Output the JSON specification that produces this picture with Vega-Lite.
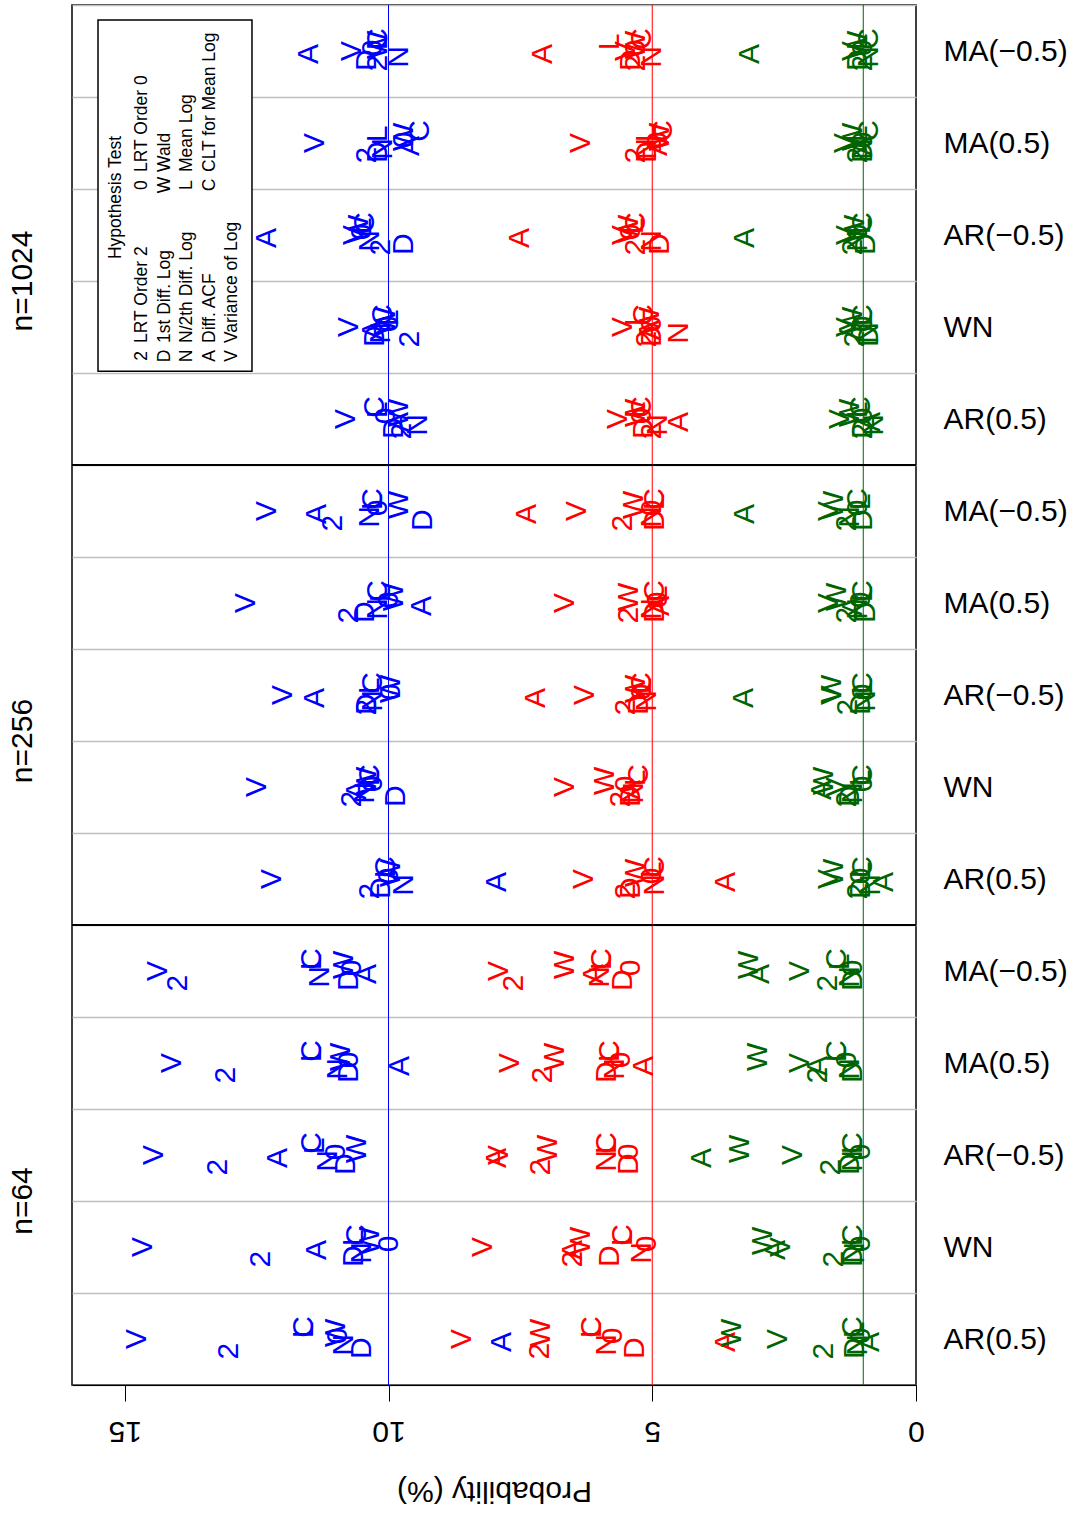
{
  "$schema": "https://vega.github.io/schema/vega-lite/v6.json",
  "width": 844,
  "height": 1380,
  "autosize": {"type": "none"},
  "padding": {"left": 72, "top": 5, "right": 157, "bottom": 128},
  "background": "white",
  "config": {
    "font": "Liberation Sans",
    "view": {"stroke": "black", "strokeWidth": 1.5},
    "text": {"font": "Liberation Sans"}
  },
  "layer": [
    {
      "layer": [
        {
          "data": {"values": [{"level": 10}, {"level": 5}, {"level": 1}]},
          "mark": {"type": "rule", "strokeWidth": 1},
          "encoding": {
            "x": {"field": "level", "type": "quantitative", "title": "Probability (%)"},
            "color": {"field": "level", "type": "nominal", "scale": {"domain": [10, 5, 1], "range": ["#0000FF", "#FF0000", "#006400"]}, "legend": null}
          }
        },
        {
          "data": {"values": [{"case": "n=256|MA(−0.5)"}, {"case": "n=64|MA(−0.5)"}]},
          "mark": {"type": "rule", "color": "black", "strokeWidth": 2},
          "encoding": {
            "y": {
              "field": "case", "type": "nominal", "bandPosition": 0,
              "scale": {"domain": ["n=1024|MA(−0.5)", "n=1024|MA(0.5)", "n=1024|AR(−0.5)", "n=1024|WN", "n=1024|AR(0.5)", "n=256|MA(−0.5)", "n=256|MA(0.5)", "n=256|AR(−0.5)", "n=256|WN", "n=256|AR(0.5)", "n=64|MA(−0.5)", "n=64|MA(0.5)", "n=64|AR(−0.5)", "n=64|WN", "n=64|AR(0.5)"], "paddingInner": 0, "paddingOuter": 0},
              "axis": {"orient": "left", "title": null, "labelOffset": -46, "labelExpr": "indexof(datum.label, '|WN') >= 0 ? split(datum.label, '|')[0] : ''", "ticks": false, "tickSize": 0, "domain": false, "grid": false, "labelAngle": 270, "labelAlign": "center", "labelBaseline": "alphabetic", "labelPadding": 41, "labelFontSize": 30, "labelColor": "black", "labelOverlap": false, "labelFont": "Liberation Sans"}
            }
          }
        },
        {
          "data": {"values": [
            {"case": "n=1024|MA(−0.5)", "level": 10, "2": 10.2, "D": 10.4, "N": 9.8, "A": 11.5, "V": 10.7, "0": 10.3, "W": 10.2, "L": 10.2, "C": 10.2},
            {"case": "n=1024|MA(−0.5)", "level": 5, "2": 5.3, "D": 5.4, "N": 5.0, "A": 7.07, "V": 5.5, "0": 5.3, "W": 5.3, "L": 5.8, "C": 5.2},
            {"case": "n=1024|MA(−0.5)", "level": 1, "2": 1.0, "D": 1.1, "N": 0.9, "A": 3.14, "V": 1.2, "0": 1.0, "W": 1.1, "L": 1.1, "C": 0.9},
            {"case": "n=1024|MA(0.5)", "level": 10, "2": 10.4, "D": 10.2, "N": 10.1, "A": 9.6, "V": 11.4, "0": 9.7, "W": 9.7, "L": 10.2, "C": 9.4},
            {"case": "n=1024|MA(0.5)", "level": 5, "2": 5.3, "D": 5.1, "N": 5.1, "A": 4.9, "V": 6.35, "0": 4.9, "W": 4.85, "L": 5.1, "C": 4.8},
            {"case": "n=1024|MA(0.5)", "level": 1, "2": 1.1, "D": 1.0, "N": 1.0, "A": 1.0, "V": 1.35, "0": 1.0, "W": 1.2, "L": 1.1, "C": 0.9},
            {"case": "n=1024|AR(−0.5)", "level": 10, "2": 10.15, "D": 9.7, "N": 10.35, "A": 12.3, "V": 10.65, "0": 10.5, "W": 10.55, "L": 10.5, "C": 10.45},
            {"case": "n=1024|AR(−0.5)", "level": 5, "2": 5.3, "D": 4.85, "N": 5.0, "A": 7.5, "V": 5.55, "0": 5.4, "W": 5.45, "L": 5.35, "C": 5.3},
            {"case": "n=1024|AR(−0.5)", "level": 1, "2": 1.2, "D": 0.95, "N": 1.1, "A": 3.24, "V": 1.3, "0": 1.1, "W": 1.15, "L": 1.05, "C": 1.0},
            {"case": "n=1024|WN", "level": 10, "2": 9.6, "D": 10.25, "N": 10.15, "A": 10.3, "V": 10.75, "0": 10.0, "W": 10.05, "L": 10.0, "C": 10.1},
            {"case": "n=1024|WN", "level": 5, "2": 5.1, "D": 5.0, "N": 4.5, "A": 5.05, "V": 5.55, "0": 5.0, "W": 5.05, "L": 5.3, "C": 5.15},
            {"case": "n=1024|WN", "level": 1, "2": 1.15, "D": 0.9, "N": 0.9, "A": 1.25, "V": 1.3, "0": 1.0, "W": 1.2, "L": 1.0, "C": 1.0},
            {"case": "n=1024|AR(0.5)", "level": 10, "2": 9.75, "D": 9.9, "N": 9.45, "A": 9.8, "V": 10.8, "0": 10.05, "W": 9.8, "L": 10.2, "C": 10.25},
            {"case": "n=1024|AR(0.5)", "level": 5, "2": 5.0, "D": 5.15, "N": 4.9, "A": 4.5, "V": 5.65, "0": 5.2, "W": 5.3, "L": 5.3, "C": 5.2},
            {"case": "n=1024|AR(0.5)", "level": 1, "2": 1.0, "D": 1.0, "N": 0.8, "A": 0.85, "V": 1.45, "0": 1.0, "W": 1.25, "L": 1.1, "C": 1.05},
            {"case": "n=256|MA(−0.5)", "level": 10, "2": 11.05, "D": 9.35, "N": 10.35, "A": 11.35, "V": 12.3, "0": 10.2, "W": 9.8, "L": 10.3, "C": 10.3},
            {"case": "n=256|MA(−0.5)", "level": 5, "2": 5.55, "D": 4.95, "N": 5.0, "A": 7.37, "V": 6.43, "0": 5.0, "W": 5.35, "L": 4.95, "C": 4.95},
            {"case": "n=256|MA(−0.5)", "level": 1, "2": 1.3, "D": 1.0, "N": 1.25, "A": 3.24, "V": 1.65, "0": 1.1, "W": 1.55, "L": 1.05, "C": 1.1},
            {"case": "n=256|MA(0.5)", "level": 10, "2": 10.75, "D": 10.45, "N": 10.2, "A": 9.37, "V": 12.7, "0": 10.0, "W": 9.9, "L": 10.15, "C": 10.2},
            {"case": "n=256|MA(0.5)", "level": 5, "2": 5.45, "D": 4.95, "N": 5.0, "A": 4.85, "V": 6.65, "0": 4.9, "W": 5.45, "L": 4.9, "C": 4.95},
            {"case": "n=256|MA(0.5)", "level": 1, "2": 1.3, "D": 0.95, "N": 1.1, "A": 1.2, "V": 1.65, "0": 1.05, "W": 1.5, "L": 1.0, "C": 1.0},
            {"case": "n=256|AR(−0.5)", "level": 10, "2": 10.4, "D": 10.4, "N": 10.3, "A": 11.4, "V": 12.0, "0": 9.95, "W": 9.95, "L": 10.35, "C": 10.3},
            {"case": "n=256|AR(−0.5)", "level": 5, "2": 5.5, "D": 5.25, "N": 5.1, "A": 7.2, "V": 6.27, "0": 5.2, "W": 5.3, "L": 5.2, "C": 5.2},
            {"case": "n=256|AR(−0.5)", "level": 1, "2": 1.28, "D": 1.05, "N": 0.95, "A": 3.26, "V": 1.6, "0": 1.0, "W": 1.6, "L": 1.0, "C": 1.0},
            {"case": "n=256|WN", "level": 10, "2": 10.7, "D": 9.85, "N": 10.45, "A": 10.6, "V": 12.5, "0": 10.3, "W": 10.4, "L": 10.35, "C": 10.35},
            {"case": "n=256|WN", "level": 5, "2": 5.6, "D": 5.4, "N": 5.35, "A": 5.4, "V": 6.66, "0": 5.5, "W": 5.9, "L": 5.3, "C": 5.25},
            {"case": "n=256|WN", "level": 1, "2": 1.3, "D": 1.25, "N": 1.2, "A": 1.78, "V": 1.5, "0": 1.0, "W": 1.75, "L": 1.05, "C": 1.0},
            {"case": "n=256|AR(0.5)", "level": 10, "2": 10.35, "D": 10.15, "N": 9.7, "A": 7.94, "V": 12.2, "0": 10.0, "W": 9.95, "L": 10.05, "C": 10.05},
            {"case": "n=256|AR(0.5)", "level": 5, "2": 5.5, "D": 5.4, "N": 4.95, "A": 3.6, "V": 6.3, "0": 5.0, "W": 5.3, "L": 5.0, "C": 4.95},
            {"case": "n=256|AR(0.5)", "level": 1, "2": 1.1, "D": 1.05, "N": 0.85, "A": 0.6, "V": 1.65, "0": 1.05, "W": 1.55, "L": 1.05, "C": 1.0},
            {"case": "n=64|MA(−0.5)", "level": 10, "2": 14.0, "D": 10.75, "N": 11.3, "A": 10.4, "V": 14.37, "0": 10.7, "W": 10.85, "L": 11.45, "C": 11.45},
            {"case": "n=64|MA(−0.5)", "level": 5, "2": 7.63, "D": 5.55, "N": 6.0, "A": 6.1, "V": 7.9, "0": 5.4, "W": 6.66, "L": 5.95, "C": 5.95},
            {"case": "n=64|MA(−0.5)", "level": 1, "2": 1.67, "D": 1.2, "N": 1.25, "A": 2.95, "V": 2.2, "0": 1.2, "W": 3.17, "L": 1.45, "C": 1.5},
            {"case": "n=64|MA(0.5)", "level": 10, "2": 13.08, "D": 10.75, "N": 10.95, "A": 9.78, "V": 14.1, "0": 10.75, "W": 10.9, "L": 11.45, "C": 11.45},
            {"case": "n=64|MA(0.5)", "level": 5, "2": 7.07, "D": 5.85, "N": 5.7, "A": 5.15, "V": 7.7, "0": 5.6, "W": 6.85, "L": 5.8, "C": 5.8},
            {"case": "n=64|MA(0.5)", "level": 1, "2": 1.85, "D": 1.2, "N": 1.25, "A": 1.85, "V": 2.2, "0": 1.3, "W": 3.0, "L": 1.5, "C": 1.5},
            {"case": "n=64|AR(−0.5)", "level": 10, "2": 13.24, "D": 10.8, "N": 11.15, "A": 12.1, "V": 14.45, "0": 11.0, "W": 10.6, "L": 11.4, "C": 11.45},
            {"case": "n=64|AR(−0.5)", "level": 5, "2": 7.1, "D": 5.45, "N": 5.85, "A": 7.95, "V": 7.9, "0": 5.45, "W": 6.97, "L": 5.85, "C": 5.85},
            {"case": "n=64|AR(−0.5)", "level": 1, "2": 1.62, "D": 1.25, "N": 1.2, "A": 4.06, "V": 2.33, "0": 1.05, "W": 3.34, "L": 1.2, "C": 1.2},
            {"case": "n=64|WN", "level": 10, "2": 12.42, "D": 10.65, "N": 10.5, "A": 11.35, "V": 14.65, "0": 10.0, "W": 10.35, "L": 10.65, "C": 10.6},
            {"case": "n=64|WN", "level": 5, "2": 6.5, "D": 5.8, "N": 5.2, "A": 6.5, "V": 8.2, "0": 5.1, "W": 6.35, "L": 5.55, "C": 5.55},
            {"case": "n=64|WN", "level": 1, "2": 1.55, "D": 1.2, "N": 1.15, "A": 2.65, "V": 2.55, "0": 1.05, "W": 2.9, "L": 1.2, "C": 1.2},
            {"case": "n=64|AR(0.5)", "level": 10, "2": 13.02, "D": 10.5, "N": 10.85, "A": 7.84, "V": 14.77, "0": 10.95, "W": 11.0, "L": 11.6, "C": 11.6},
            {"case": "n=64|AR(0.5)", "level": 5, "2": 7.12, "D": 5.33, "N": 5.85, "A": 3.6, "V": 8.6, "0": 5.75, "W": 7.1, "L": 6.15, "C": 6.15},
            {"case": "n=64|AR(0.5)", "level": 1, "2": 1.75, "D": 1.15, "N": 1.1, "A": 0.87, "V": 2.62, "0": 1.05, "W": 3.49, "L": 1.15, "C": 1.2}
          ]},
          "transform": [{"fold": ["2", "D", "N", "A", "V", "0", "W", "L", "C"], "as": ["key", "prob"]}],
          "mark": {"type": "text", "angle": 270, "fontSize": 30, "align": "center", "baseline": "middle", "font": "Liberation Sans"},
          "encoding": {
            "x": {
              "field": "prob", "type": "quantitative",
              "scale": {"domain": [0, 16], "reverse": true, "nice": false, "zero": false},
              "axis": {"values": [0, 5, 10, 15], "title": "Probability (%)", "grid": false, "labelAngle": 180, "labelAlign": "center", "labelBaseline": "alphabetic", "labelFlush": false, "labelOverlap": false, "labelFontSize": 30, "labelPadding": 20, "labelColor": "black", "labelFont": "Liberation Sans", "tickSize": 16, "tickColor": "black", "tickWidth": 1, "domainColor": "black", "domainWidth": 1, "titleAngle": 180, "titleFontSize": 30, "titleFontWeight": "normal", "titleBaseline": "bottom", "titlePadding": 30, "titleColor": "black", "titleFont": "Liberation Sans"}
            },
            "y": {
              "field": "case", "type": "nominal",
              "scale": {"domain": ["n=1024|MA(−0.5)", "n=1024|MA(0.5)", "n=1024|AR(−0.5)", "n=1024|WN", "n=1024|AR(0.5)", "n=256|MA(−0.5)", "n=256|MA(0.5)", "n=256|AR(−0.5)", "n=256|WN", "n=256|AR(0.5)", "n=64|MA(−0.5)", "n=64|MA(0.5)", "n=64|AR(−0.5)", "n=64|WN", "n=64|AR(0.5)"], "paddingInner": 0, "paddingOuter": 0},
              "axis": {"orient": "right", "title": null, "labelExpr": "split(datum.label, '|')[1]", "ticks": false, "domain": false, "grid": true, "gridColor": "#BEBEBE", "gridWidth": 1.5, "tickBand": "extent", "labelFontSize": 30, "labelColor": "black", "labelPadding": 27, "labelAlign": "left", "labelBaseline": "middle", "labelFont": "Liberation Sans", "labelOverlap": false}
            },
            "yOffset": {"field": "key", "type": "nominal", "scale": {"type": "point", "domain": ["C", "L", "W", "0", "V", "A", "N", "D", "2"], "range": [32.4, 59.6]}},
            "text": {"field": "key", "type": "nominal"},
            "color": {"field": "level", "type": "nominal", "scale": {"domain": [10, 5, 1], "range": ["#0000FF", "#FF0000", "#006400"]}, "legend": null}
          }
        }
      ],
      "resolve": {"axis": {"y": "independent"}}
    },
    {
      "data": {"values": [{}]},
      "layer": [
        {
          "mark": {"type": "rect", "fill": "white", "stroke": "black", "strokeWidth": 1.5},
          "encoding": {
            "x": {"datum": 15.507, "title": "Probability (%)"},
            "x2": {"datum": 12.588},
            "y": {"datum": 14.837, "type": "quantitative", "scale": {"domain": [0, 15], "nice": false, "zero": false}, "axis": null},
            "y2": {"datum": 11.02}
          }
        },
        {
          "mark": {"type": "text", "text": "Hypothesis Test", "angle": 270, "fontSize": 17.5, "align": "center", "baseline": "alphabetic", "color": "black"},
          "encoding": {
            "x": {"datum": 15.071, "title": "Probability (%)"},
            "y": {"datum": 12.908, "type": "quantitative", "scale": {"domain": [0, 15], "nice": false, "zero": false}, "axis": null}
          }
        },
        {
          "mark": {"type": "text", "text": ["2", "D", "N", "A", "V"], "angle": 270, "fontSize": 17.5, "lineHeight": 22.5, "align": "center", "baseline": "alphabetic", "color": "black"},
          "encoding": {
            "x": {"datum": 14.578, "title": "Probability (%)"},
            "y": {"datum": 11.185, "type": "quantitative", "scale": {"domain": [0, 15], "nice": false, "zero": false}, "axis": null}
          }
        },
        {
          "mark": {"type": "text", "text": ["LRT Order 2", "1st Diff. Log", "N/2th Diff. Log", "Diff. ACF", "Variance of Log"], "angle": 270, "fontSize": 17.5, "lineHeight": 22.5, "align": "left", "baseline": "alphabetic", "color": "black"},
          "encoding": {
            "x": {"datum": 14.578, "title": "Probability (%)"},
            "y": {"datum": 11.326, "type": "quantitative", "scale": {"domain": [0, 15], "nice": false, "zero": false}, "axis": null}
          }
        },
        {
          "mark": {"type": "text", "text": ["0", "W", "L", "C"], "angle": 270, "fontSize": 17.5, "lineHeight": 22.5, "align": "center", "baseline": "alphabetic", "color": "black"},
          "encoding": {
            "x": {"datum": 14.578, "title": "Probability (%)"},
            "y": {"datum": 13.043, "type": "quantitative", "scale": {"domain": [0, 15], "nice": false, "zero": false}, "axis": null}
          }
        },
        {
          "mark": {"type": "text", "text": ["LRT Order 0", "Wald", "Mean Log", "CLT for Mean Log"], "angle": 270, "fontSize": 17.5, "lineHeight": 22.5, "align": "left", "baseline": "alphabetic", "color": "black"},
          "encoding": {
            "x": {"datum": 14.578, "title": "Probability (%)"},
            "y": {"datum": 13.185, "type": "quantitative", "scale": {"domain": [0, 15], "nice": false, "zero": false}, "axis": null}
          }
        }
      ]
    }
  ],
  "resolve": {"scale": {"y": "independent"}}
}
